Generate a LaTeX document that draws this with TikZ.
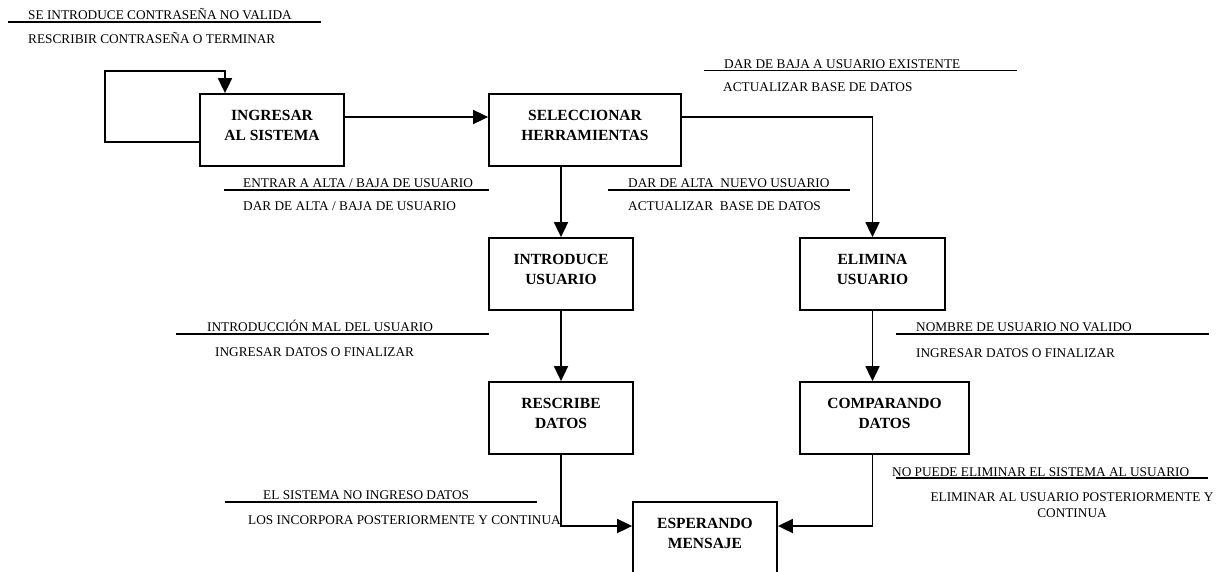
\documentclass[tikz,border=0pt]{standalone}
\usepackage{fontspec}
\setmainfont{Liberation Serif}
\usetikzlibrary{arrows.meta}
\begin{document}
\begin{tikzpicture}[x=1pt,y=-1pt,
  proc/.style={draw, line width=1.8pt, minimum height=72pt, inner sep=0pt},
  proctext/.style={font=\fontsize{15.5}{20}\selectfont\bfseries, align=center, inner sep=0pt},
  flow/.style={line width=1.8pt, -{Triangle[length=15pt,width=14pt]}},
  msg/.style={font=\fontsize{13.3}{16}\selectfont, anchor=base west, inner sep=0pt},
  msgc/.style={font=\fontsize{13.3}{16}\selectfont, align=center, inner sep=0pt},
  rule/.style={line width=1.2pt}
]
\useasboundingbox (0,0) rectangle (1225,571);

% process boxes
\node[proc, minimum width=144pt] (ing)   at (272,130)   {};
\node[proc, minimum width=192pt] (sel)   at (585,130)   {};
\node[proc, minimum width=144pt] (intro) at (561,274)   {};
\node[proc, minimum width=145pt] (elim)  at (872.5,274) {};
\node[proc, minimum width=144pt] (resc)  at (561,418)   {};
\node[proc, minimum width=169pt] (comp)  at (884.5,418) {};
\node[proc, minimum width=144pt] (esp)   at (705,538)   {};

% box captions
\node[proctext] (ingt)   at (272,125)   {INGRESAR\\AL SISTEMA};
\node[proctext] (selt)   at (585,125)   {SELECCIONAR\\HERRAMIENTAS};
\node[proctext] (introt) at (561,269)   {INTRODUCE\\USUARIO};
\node[proctext] (elimt)  at (872.5,269) {ELIMINA\\USUARIO};
\node[proctext] (resct)  at (561,413)   {RESCRIBE\\DATOS};
\node[proctext] (compt)  at (884.5,413) {COMPARANDO\\DATOS};
\node[proctext] (espt)   at (705,533)   {ESPERANDO\\MENSAJE};

% flows
\coordinate (loopc) at (105,71);
\draw[flow] ([yshift=-12pt]ing.west) -| (loopc) -| ([xshift=-47pt]ing.north);
\draw[flow] ([yshift=13pt]ing.east) -- ([yshift=13pt]sel.west);
\draw[flow] (sel.south -| intro.north) -- (intro.north);
\draw[flow] ([yshift=13pt]sel.east) -| (elim.north);
\draw[flow] (intro.south) -- (resc.north);
\draw[flow] (elim.south) -- (elim.south |- comp.north);
\draw[flow] (resc.south) |- ([yshift=12pt]esp.west);
\draw[flow] (comp.south -| elim.south) |- ([yshift=12pt]esp.east);

% event / action labels
\node[msg] (m1a) at (28,19.4)   {SE INTRODUCE CONTRASEÑA NO VALIDA};
\draw[rule] (8,22) -- (321,22);
\node[msg] (m1b) at (28,43.4)   {RESCRIBIR CONTRASEÑA O TERMINAR};

\node[msg] (m2a) at (724,68.4)  {DAR DE BAJA A USUARIO EXISTENTE};
\draw[rule] (704,70.5) -- (1017,70.5);
\node[msg] (m2b) at (723,91.4)  {ACTUALIZAR BASE DE DATOS};

\node[msg] (m3a) at (243,187.4) {ENTRAR A ALTA / BAJA DE USUARIO};
\draw[rule] (224,190) -- (489,190);
\node[msg] (m3b) at (243,210.4) {DAR DE ALTA / BAJA DE USUARIO};

\node[msg] (m4a) at (628,187.4) {DAR DE ALTA \ NUEVO USUARIO};
\draw[rule] (608,190) -- (850,190);
\node[msg] (m4b) at (628,210.4) {ACTUALIZAR \ BASE DE DATOS};

\node[msg] (m5a) at (207,331.4) {INTRODUCCIÓN MAL DEL USUARIO};
\draw[rule] (176,334) -- (489,334);
\node[msg] (m5b) at (215,356.4) {INGRESAR DATOS O FINALIZAR};

\node[msg] (m6a) at (916,331.4) {NOMBRE DE USUARIO NO VALIDO};
\draw[rule] (896,334) -- (1209,334);
\node[msg] (m6b) at (916,357.4) {INGRESAR DATOS O FINALIZAR};

\node[msg] (m7a) at (892,476.4) {NO PUEDE ELIMINAR EL SISTEMA AL USUARIO};
\draw[rule] (896,478) -- (1208,478);
\node[msgc] (m7b) at (1072,505) {ELIMINAR AL USUARIO POSTERIORMENTE Y\\CONTINUA};

\node[msg] (m8a) at (263,499.4) {EL SISTEMA NO INGRESO DATOS};
\draw[rule] (225,502) -- (537,502);
\node[msg] (m8b) at (248,524.4) {LOS INCORPORA POSTERIORMENTE Y CONTINUA};
\end{tikzpicture}
\end{document}
